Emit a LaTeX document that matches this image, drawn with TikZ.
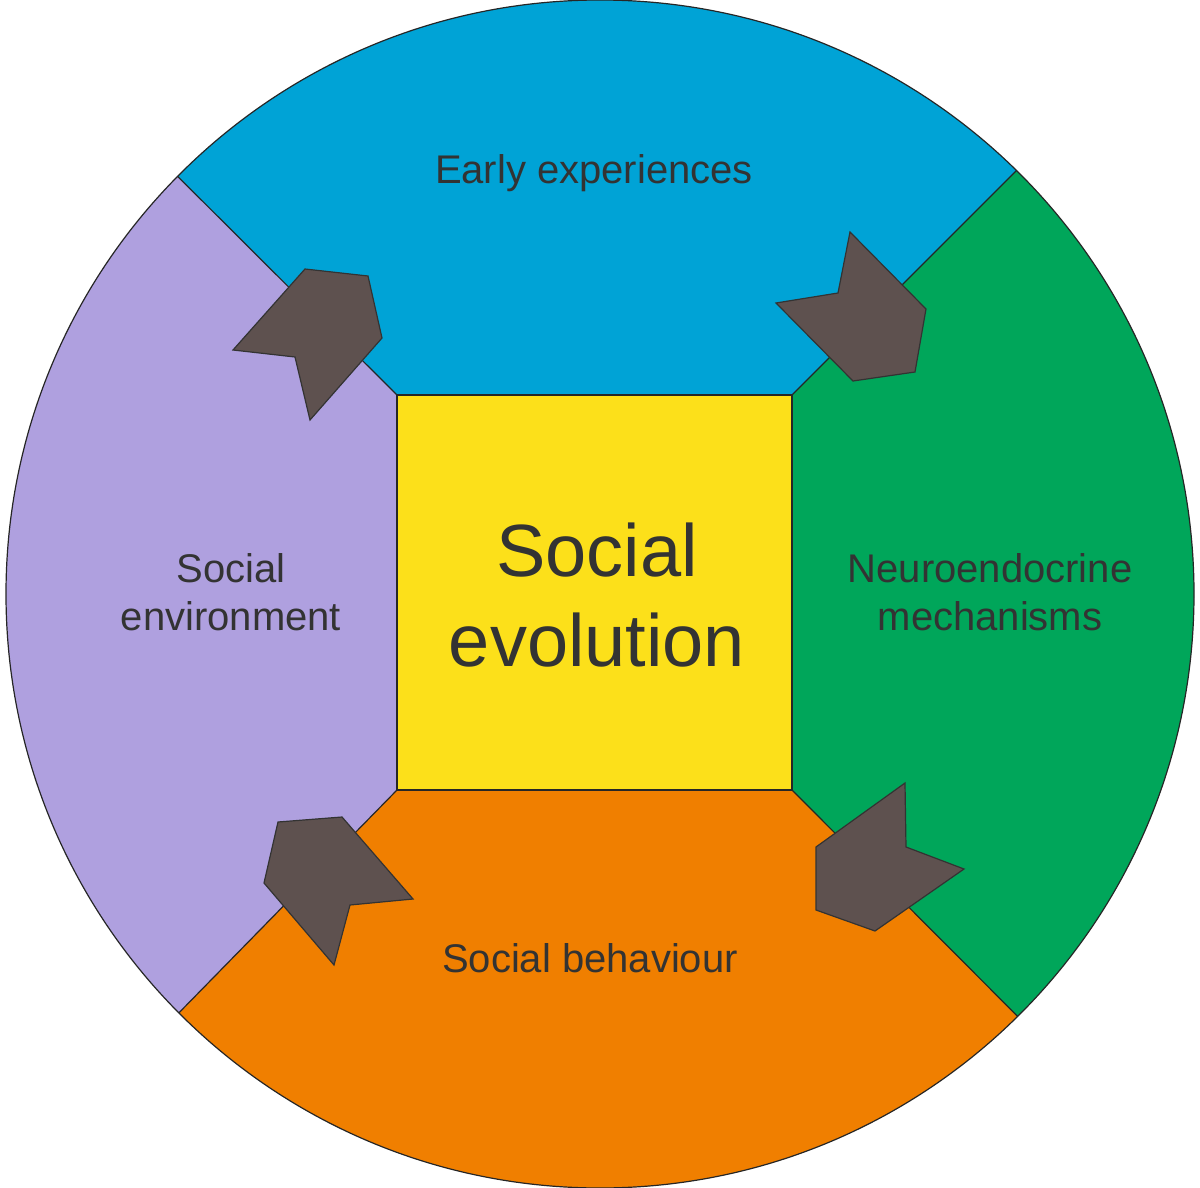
\documentclass[tikz,border=0pt]{standalone}
\usepackage{fontspec}
\setmainfont{Liberation Sans}
\begin{document}
\begin{tikzpicture}[x=1pt,y=-1pt,
  arrowshape/.style={fill=arr,draw=black!80,line width=1.2pt,line join=miter},
  lbl/.style={text=txt,font=\fontsize{40}{48}\selectfont,align=center},
  sep/.style={draw=black!85,line width=1.2pt}]
\definecolor{cblue}{HTML}{00A3D6}
\definecolor{cpurp}{HTML}{AFA0DF}
\definecolor{cgreen}{HTML}{00A65A}
\definecolor{corange}{HTML}{F07F00}
\definecolor{cyel}{HTML}{FCE01A}
\definecolor{arr}{HTML}{5E514F}
\definecolor{txt}{HTML}{333333}
\useasboundingbox (0,0) rectangle (1200,1188);
\coordinate (c) at (600,594);
\coordinate (q1) at (397,395); \coordinate (q2) at (792,395);
\coordinate (q3) at (792,790); \coordinate (q4) at (397,790);
\begin{scope}
\clip (c) circle (594);
\fill[cblue] (q1) -- (-200,-200) -- (1400,-213) -- (q2) -- cycle;
\fill[cgreen] (q2) -- (1400,-213) -- (1400,1400) -- (q3) -- cycle;
\fill[corange] (q3) -- (1400,1400) -- (-200,1400) -- (q4) -- cycle;
\fill[cpurp] (q4) -- (-200,1400) -- (-200,-200) -- (q1) -- cycle;
\draw[sep] (q1) -- (-200,-200) (q2) -- (1400,-213) (q3) -- (1400,1400) (q4) -- (-200,1400);
\end{scope}
\node[draw=black!85,line width=1.2pt,fill=cyel,minimum width=395pt,minimum height=395pt,inner sep=0pt] (sq) at (594.5,592.5) {};
\draw[sep] (c) circle (594);
\node[text=txt,font=\fontsize{74}{90}\selectfont,align=center] (se) at (597,595) {Social\\evolution};
\node[lbl] (ee) at (594,173) {Early experiences};
\node[lbl] (senv) at (231,592) {Social\\environment};
\node[lbl] (nm) at (990,592) {Neuroendocrine\\mechanisms};
\node[lbl] (sb) at (590,958) {Social behaviour};
\draw[arrowshape] (233,350) -- (305,269) -- (368,276) -- (382,338) -- (310,420) -- (295,357) -- cycle;
\draw[arrowshape] (850,232) -- (926,309) -- (915,372) -- (853,381) -- (776,303) -- (838,293) -- cycle;
\draw[arrowshape] (278,822) -- (342,817) -- (413,899) -- (350,905) -- (334,965) -- (264,883) -- cycle;
\draw[arrowshape] (905,783) -- (906,847) -- (964,869) -- (875,931) -- (816,910) -- (816,847) -- cycle;
\end{tikzpicture}
\end{document}
